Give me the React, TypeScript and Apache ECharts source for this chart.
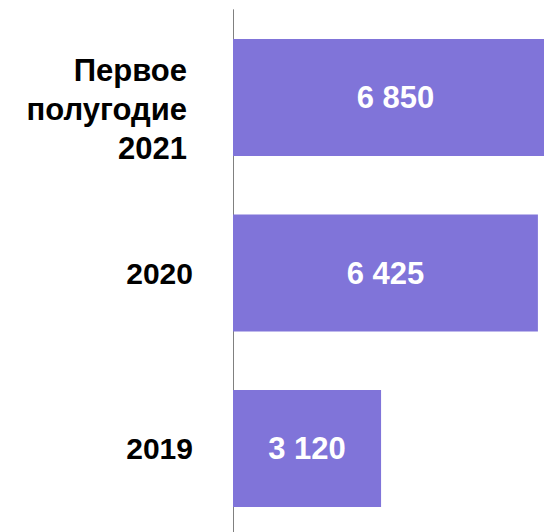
import React, { useEffect, useRef } from "react";
import * as echarts from "echarts";

const categories = ["2019", "2020", "Первое\nполугодие\n2021"];
const values = [3120, 6425, 6850];
const valueLabels = ["3 120", "6 425", "6 850"];

export default function App() {
  const ref = useRef<HTMLDivElement>(null);
  useEffect(() => {
    if (!ref.current) return;
    const chart = echarts.init(ref.current, null, { renderer: "svg" });
    chart.setOption({
      animation: false,
      grid: { left: 225, top: 1.75, width: 332.2, height: 526.5 },
      xAxis: {
        type: "value",
        min: 0,
        max: 7000,
        show: false,
        splitLine: { show: false },
      },
      yAxis: {
        type: "category",
        data: categories,
        axisLine: { show: true, lineStyle: { color: "#808080", width: 1 } },
        axisTick: { show: false },
        axisLabel: {
          margin: 40,
          color: "#000000",
          fontSize: 30,
          fontWeight: "bold",
          fontFamily: "Liberation Sans, Arial, sans-serif",
          align: "right",
          formatter: (v: string) =>
            v.indexOf("\n") >= 0
              ? "{s| }\n" + v.split("\n").map((l) => "{a|" + l + "}").join("\n")
              : v,
          rich: {
            s: { fontSize: 1, lineHeight: 23 },
            a: {
              fontSize: 31,
              fontWeight: "bold",
              fontFamily: "Liberation Sans, Arial, sans-serif",
              color: "#000000",
              lineHeight: 39,
              padding: [0, 6, 0, 0],
            },
          },
        },
      },
      series: [
        {
          type: "bar",
          data: values,
          barWidth: 117,
          itemStyle: { color: "#8074D9" },
          label: {
            show: true,
            position: "inside",
            color: "#ffffff",
            fontSize: 31,
            fontWeight: "bold",
            fontFamily: "Liberation Sans, Arial, sans-serif",
            formatter: (p: any) => valueLabels[p.dataIndex],
          },
        },
      ],
    });
    return () => chart.dispose();
  }, []);
  return (
    <div
      style={{
        position: "fixed",
        left: 0,
        top: 0,
        width: 544,
        height: 532,
        overflow: "hidden",
        background: "#ffffff",
      }}
    >
      <div
        ref={ref}
        style={{ position: "absolute", left: 8, top: 8, width: 570, height: 540 }}
      />
    </div>
  );
}
